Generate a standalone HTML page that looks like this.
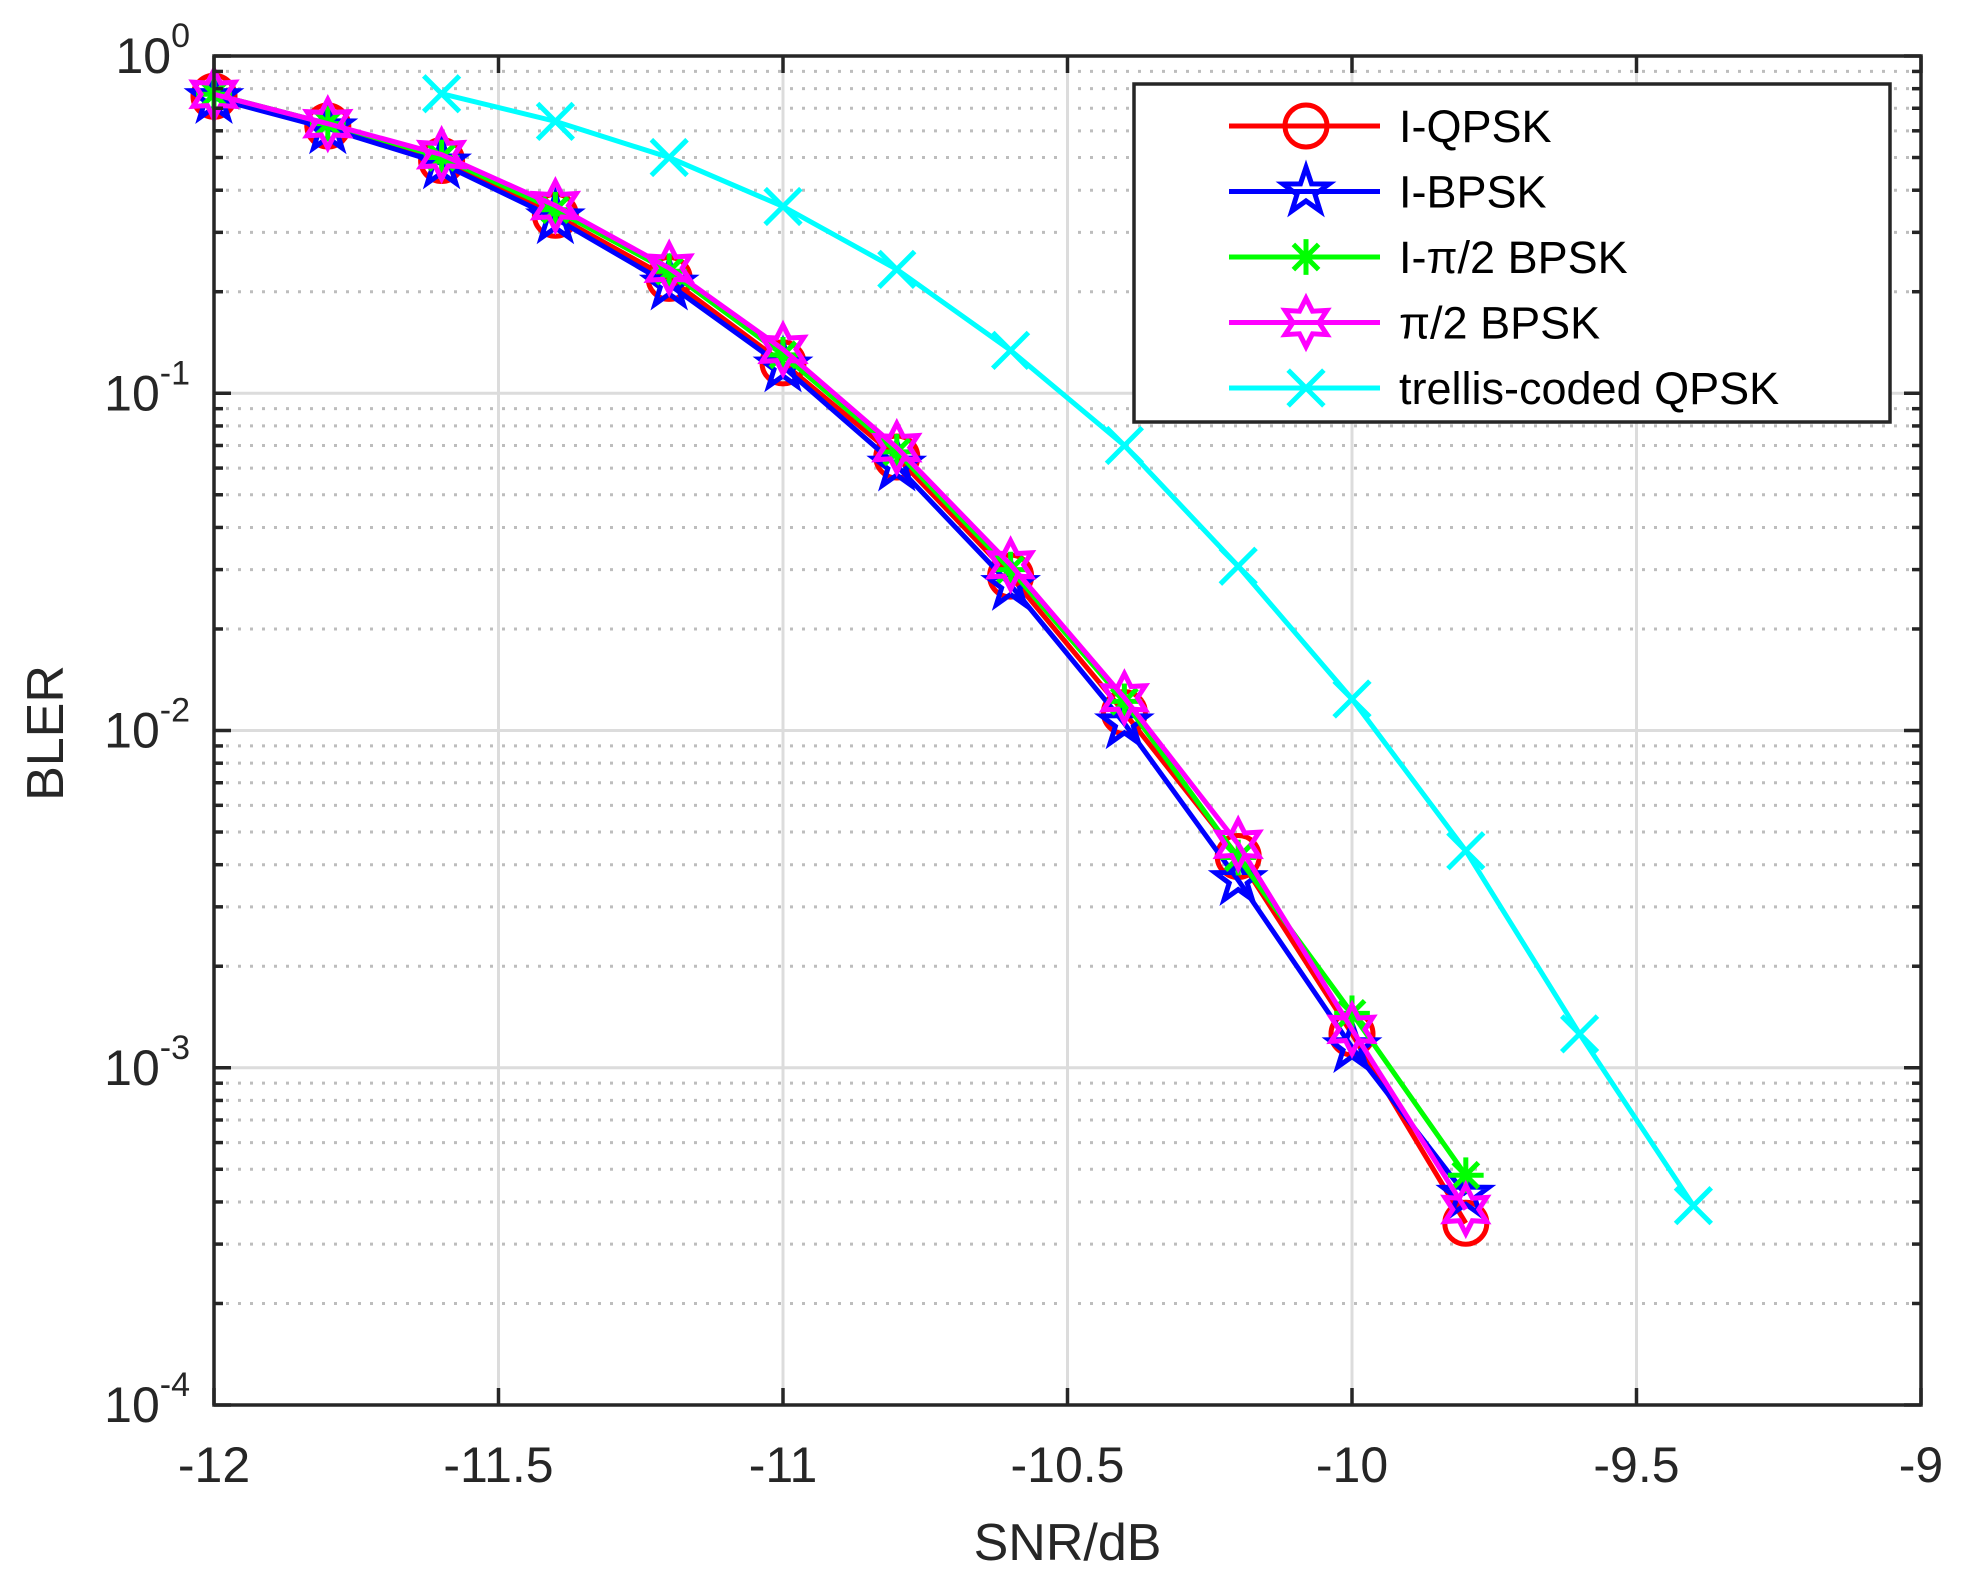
<!DOCTYPE html>
<html><head><meta charset="utf-8"><style>
html,body{margin:0;padding:0;background:#fff;}
svg{display:block;font-family:"Liberation Sans",Arial,sans-serif;}
</style></head><body>
<svg id="chart" width="1964" height="1579" viewBox="0 0 1964 1579">
<rect x="0" y="0" width="1964" height="1579" fill="#fff"/>
<g id="grid"></g><g id="series"></g><g id="axes"></g><g id="legend"></g>
</svg>
<script>
const xSnr = [-12,-11.8,-11.6,-11.4,-11.2,-11,-10.8,-10.6,-10.4,-10.2,-10,-9.8];
const xTrellis = [-11.6,-11.4,-11.2,-11,-10.8,-10.6,-10.4,-10.2,-10,-9.8,-9.6,-9.4];
const yIQPSK = [0.76,0.62,0.49,0.337,0.219,0.123,0.0647,0.0287,0.0113,0.00423,0.00126,0.000346];
const yIBPSK = [0.75,0.61,0.48,0.33,0.21,0.12,0.061,0.027,0.0105,0.0036,0.00115,0.00042];
const yIPi2BPSK = [0.77,0.63,0.50,0.35,0.23,0.13,0.067,0.030,0.0122,0.0042,0.00145,0.00048];
const yPi2BPSK = [0.77,0.63,0.51,0.36,0.235,0.135,0.069,0.031,0.0125,0.0046,0.0013,0.00038];
const yTrellis = [0.773,0.64,0.50,0.358,0.233,0.134,0.070,0.0307,0.0124,0.0044,0.00126,0.00039];
const xTicks = [-12,-11.5,-11,-10.5,-10,-9.5,-9];
const xTickLabels = ["-12","-11.5","-11","-10.5","-10","-9.5","-9"];
const yDecades = [0,-1,-2,-3,-4];
const seriesNames = ["I-QPSK","I-BPSK","I-\u03c0/2 BPSK","\u03c0/2 BPSK","trellis-coded QPSK"];

const L=214,R=1921,T=56,B=1405;
const xs=v=>L+(v+12)/3*(R-L);
const ys=v=>T+(-Math.log10(v))/4*(B-T);
const NS="http://www.w3.org/2000/svg";
function mk(tag,attrs,parent){const e=document.createElementNS(NS,tag);for(const k in attrs)e.setAttribute(k,attrs[k]);parent.appendChild(e);return e;}
const grid=document.getElementById('grid'),ser=document.getElementById('series'),axes=document.getElementById('axes'),leg=document.getElementById('legend');

for(let d=0;d<4;d++){for(let m=2;m<=9;m++){const y=ys(Math.pow(10,-d-1)*m);const g=mk('line',{x1:L,x2:R,y1:y,y2:y,stroke:'#bdbdbd','stroke-width':3,'stroke-dasharray':'3 9'},grid);

}}
yDecades.forEach(d=>{const y=ys(Math.pow(10,d));const g=mk('line',{x1:L,x2:R,y1:y,y2:y,stroke:'#dcdcdc','stroke-width':3},grid);

});
xTicks.forEach(v=>{const x=xs(v);const g=mk('line',{x1:x,x2:x,y1:T,y2:B,stroke:'#dcdcdc','stroke-width':3},grid);

});

const SW=5;
function marker(type,x,y,color,p){
 const s=21;
 if(type==='o'){mk('circle',{cx:x,cy:y,r:s,fill:'none',stroke:color,'stroke-width':SW},p);}
 else if(type==='p'){let pts=[];for(let i=0;i<10;i++){const a=-Math.PI/2+i*Math.PI/5;const r=i%2?s*0.45:s*1.15;pts.push((x+r*Math.cos(a))+','+(y+r*Math.sin(a)));}
  mk('polygon',{points:pts.join(' '),fill:'none',stroke:color,'stroke-width':SW},p);}
 else if(type==='*'){for(let i=0;i<4;i++){const a=i*Math.PI/4;const r=s*0.85;mk('line',{x1:x-r*Math.cos(a),y1:y-r*Math.sin(a),x2:x+r*Math.cos(a),y2:y+r*Math.sin(a),stroke:color,'stroke-width':SW},p);}}
 else if(type==='h'){let pts=[];for(let i=0;i<12;i++){const a=-Math.PI/2+i*Math.PI/6;const r=i%2?s*0.62:s*1.15;pts.push((x+r*Math.cos(a))+','+(y+r*Math.sin(a)));}
  mk('polygon',{points:pts.join(' '),fill:'none',stroke:color,'stroke-width':SW},p);}
 else if(type==='x'){const r=s*0.85;mk('line',{x1:x-r,y1:y-r,x2:x+r,y2:y+r,stroke:color,'stroke-width':SW},p);mk('line',{x1:x-r,y1:y+r,x2:x+r,y2:y-r,stroke:color,'stroke-width':SW},p);}
}
const cfg=[[xSnr,yIQPSK,'#ff0000','o','series-i-qpsk'],[xSnr,yIBPSK,'#0000ff','p','series-i-bpsk'],[xSnr,yIPi2BPSK,'#00ff00','*','series-i-pi2-bpsk'],[xSnr,yPi2BPSK,'#ff00ff','h','series-pi2-bpsk'],[xTrellis,yTrellis,'#00ffff','x','series-trellis-qpsk']];
cfg.forEach(([xa,ya,c,m,n])=>{
 const g=mk('g',{},ser);
 
 
 mk('polyline',{points:xa.map((v,i)=>xs(v)+','+ys(ya[i])).join(' '),fill:'none',stroke:c,'stroke-width':SW},g);
 xa.forEach((v,i)=>marker(m,xs(v),ys(ya[i]),c,g));
});

const box=mk('rect',{x:L,y:T,width:R-L,height:B-T,fill:'none',stroke:'#262626','stroke-width':3.5},axes);


xTicks.forEach((v,i)=>{const x=xs(v);mk('line',{x1:x,x2:x,y1:B,y2:B-17,stroke:'#262626','stroke-width':3.5},axes);mk('line',{x1:x,x2:x,y1:T,y2:T+17,stroke:'#262626','stroke-width':3.5},axes);
 const t=mk('text',{x:x,y:1482,'text-anchor':'middle','font-size':50,fill:'#262626'},axes);t.textContent=xTickLabels[i];
 
 });
for(let d=0;d<4;d++){for(let m=2;m<=9;m++){const y=ys(Math.pow(10,-d-1)*m);mk('line',{x1:L,x2:L+9,y1:y,y2:y,stroke:'#262626','stroke-width':3.5},axes);mk('line',{x1:R,x2:R-9,y1:y,y2:y,stroke:'#262626','stroke-width':3.5},axes);}}
yDecades.forEach(d=>{const y=ys(Math.pow(10,d));mk('line',{x1:L,x2:L+17,y1:y,y2:y,stroke:'#262626','stroke-width':3.5},axes);mk('line',{x1:R,x2:R-17,y1:y,y2:y,stroke:'#262626','stroke-width':3.5},axes);
 const t=mk('text',{x:190,y:y+17,'text-anchor':'end','font-size':50,fill:'#262626'},axes);
 
 
 const b=mk('tspan',{},t);b.textContent='10';const e=mk('tspan',{dy:-26,'font-size':34},t);e.textContent=String(d);});
const xt=mk('text',{x:(L+R)/2,y:1560,'text-anchor':'middle','font-size':52,fill:'#262626'},axes);xt.textContent='SNR/dB';


const yt=mk('text',{x:0,y:0,'text-anchor':'middle','font-size':52,fill:'#262626',transform:'translate(63,733) rotate(-90)'},axes);yt.textContent='BLER';



const lb=mk('rect',{x:1134,y:84,width:756,height:338,fill:'#fff',stroke:'#262626','stroke-width':3.5},leg);


cfg.forEach(([xa,ya,c,m,n],i)=>{
 const y=126+i*65.5;
 const g=mk('g',{},leg);
 
 
 mk('line',{x1:1229,x2:1380,y1:y,y2:y,stroke:c,'stroke-width':SW},g);
 marker(m,1306,y,c,g);
 const t=mk('text',{x:1399,y:y+16,'font-size':45,fill:'#000'},g);t.textContent=seriesNames[i];
});
</script>
</body></html>
